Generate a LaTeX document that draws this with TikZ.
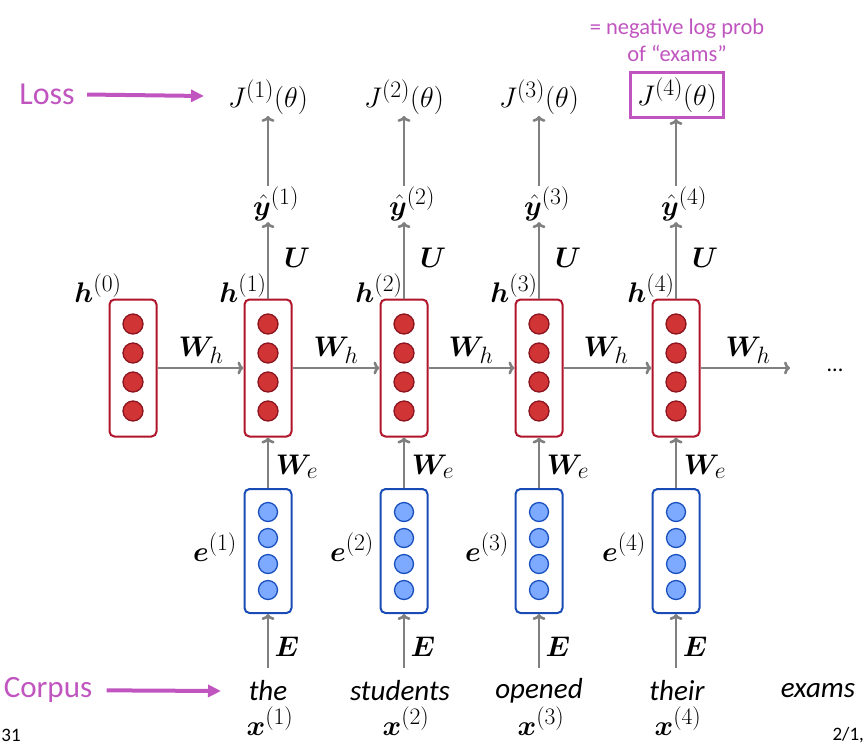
\documentclass[tikz,border=0pt]{standalone}
\usepackage{amsmath}
\usepackage{bm}
\usepackage{fontspec}
\newfontfamily\calibri{Carlito}
\usetikzlibrary{arrows.meta}

\definecolor{boxred}{RGB}{176,20,42}
\definecolor{dotred}{RGB}{140,20,30}
\definecolor{fillred}{RGB}{208,52,52}
\definecolor{boxblue}{RGB}{25,75,180}
\definecolor{dotblue}{RGB}{25,80,190}
\definecolor{fillblue}{RGB}{125,170,255}
\definecolor{arrgray}{RGB}{128,128,128}
\definecolor{lossprp}{RGB}{192,85,192}

\begin{document}
\begin{tikzpicture}
[
	x=1pt,y=-1pt,
	mth/.style={font=\fontsize{24.88}{30}\selectfont,scale=1.14,inner sep=1},
	hid/.style={rectangle,draw=boxred,line width=2,rounded corners=5,minimum width=47,minimum height=137},
	emb/.style={rectangle,draw=boxblue,line width=2,rounded corners=5,minimum width=47,minimum height=124},
	hdot/.style={circle,draw=dotred,fill=fillred,line width=1.3,minimum size=20,inner sep=0},
	edot/.style={circle,draw=dotblue,fill=fillblue,line width=1.3,minimum size=19,inner sep=0},
	arr/.style={draw=arrgray,line width=2.6,-{To[length=6,width=13]}},
	parr/.style={draw=lossprp,line width=4,-{Triangle[length=13,width=12]}},
	word/.style={font=\calibri\itshape\fontsize{29}{32}\selectfont},
	side/.style={font=\calibri\fontsize{32}{36}\selectfont,text=lossprp}
]
\useasboundingbox (0,0) rectangle (866,747);

% hidden states
\node[hid] (h0) at (133,368) {};
\node[hid] (h1) at (268,368) {};
\node[hid] (h2) at (404,368) {};
\node[hid] (h3) at (539,368) {};
\node[hid] (h4) at (676,368) {};

\node[hdot] (h0a) at (133,324) {};
\node[hdot] (h0b) at (133,353) {};
\node[hdot] (h0c) at (133,382) {};
\node[hdot] (h0d) at (133,411) {};

\node[hdot] (h1a) at (268,324) {};
\node[hdot] (h1b) at (268,353) {};
\node[hdot] (h1c) at (268,382) {};
\node[hdot] (h1d) at (268,411) {};

\node[hdot] (h2a) at (404,324) {};
\node[hdot] (h2b) at (404,353) {};
\node[hdot] (h2c) at (404,382) {};
\node[hdot] (h2d) at (404,411) {};

\node[hdot] (h3a) at (539,324) {};
\node[hdot] (h3b) at (539,353) {};
\node[hdot] (h3c) at (539,382) {};
\node[hdot] (h3d) at (539,411) {};

\node[hdot] (h4a) at (676,324) {};
\node[hdot] (h4b) at (676,353) {};
\node[hdot] (h4c) at (676,382) {};
\node[hdot] (h4d) at (676,411) {};

% embeddings
\node[emb] (e1) at (268,551) {};
\node[emb] (e2) at (404,551) {};
\node[emb] (e3) at (539,551) {};
\node[emb] (e4) at (676,551) {};

\node[edot] (e1a) at (268,512) {};
\node[edot] (e1b) at (268,538) {};
\node[edot] (e1c) at (268,564) {};
\node[edot] (e1d) at (268,590) {};

\node[edot] (e2a) at (404,512) {};
\node[edot] (e2b) at (404,538) {};
\node[edot] (e2c) at (404,564) {};
\node[edot] (e2d) at (404,590) {};

\node[edot] (e3a) at (539,512) {};
\node[edot] (e3b) at (539,538) {};
\node[edot] (e3c) at (539,564) {};
\node[edot] (e3d) at (539,590) {};

\node[edot] (e4a) at (676,512) {};
\node[edot] (e4b) at (676,538) {};
\node[edot] (e4c) at (676,564) {};
\node[edot] (e4d) at (676,590) {};

% outputs and losses
\node[mth] (y1) at (276,204) {$\hat{\bm{y}}^{(1)}$};
\node[mth] (y2) at (412,204) {$\hat{\bm{y}}^{(2)}$};
\node[mth] (y3) at (547,204) {$\hat{\bm{y}}^{(3)}$};
\node[mth] (y4) at (684,204) {$\hat{\bm{y}}^{(4)}$};

\node[mth] (J1) at (268,97) {$J^{(1)}(\theta)$};
\node[mth] (J2) at (404,97) {$J^{(2)}(\theta)$};
\node[mth] (J3) at (539,97) {$J^{(3)}(\theta)$};
\node[mth,draw=lossprp,line width=3,minimum width=82,minimum height=39,inner sep=0] (J4) at (677,95) {$J^{(4)}(\theta)$};

\node[font=\calibri\fontsize{22.5}{27}\selectfont,text=lossprp,align=center] (note) at (677,40) {= negative log prob\\of “exams”};

% inputs
\node[word] (w1) at (268,691) {the};
\node[word] (w2) at (400,691) {students};
\node[word] (w3) at (539,691) {opened};
\node[word] (w4) at (677,691) {their};
\node[word] (w5) at (818,691) {exams};

\node[mth] (x1) at (270,721) {$\bm{x}^{(1)}$};
\node[mth] (x2) at (406,721) {$\bm{x}^{(2)}$};
\node[mth] (x3) at (541,721) {$\bm{x}^{(3)}$};
\node[mth] (x4) at (678,721) {$\bm{x}^{(4)}$};

\coordinate (x1top) at (268,668);
\coordinate (x2top) at (404,668);
\coordinate (x3top) at (539,668);
\coordinate (x4top) at (676,668);

% labels
\node[mth] (lh0) at (98,288) {$\bm{h}^{(0)}$};
\node[mth] (lh1) at (243,288) {$\bm{h}^{(1)}$};
\node[mth] (lh2) at (379,288) {$\bm{h}^{(2)}$};
\node[mth] (lh3) at (514,288) {$\bm{h}^{(3)}$};
\node[mth] (lh4) at (651,288) {$\bm{h}^{(4)}$};

\node[mth] (lu1) at (297,258) {$\bm{U}$};
\node[mth] (lu2) at (433,258) {$\bm{U}$};
\node[mth] (lu3) at (568,258) {$\bm{U}$};
\node[mth] (lu4) at (705,258) {$\bm{U}$};

\node[mth] (lw1) at (201,350) {$\bm{W}_h$};
\node[mth] (lw2) at (336,350) {$\bm{W}_h$};
\node[mth] (lw3) at (471,350) {$\bm{W}_h$};
\node[mth] (lw4) at (606,350) {$\bm{W}_h$};
\node[mth] (lw5) at (748,350) {$\bm{W}_h$};

\node[mth] (lwe1) at (297,467) {$\bm{W}_e$};
\node[mth] (lwe2) at (433,467) {$\bm{W}_e$};
\node[mth] (lwe3) at (568,467) {$\bm{W}_e$};
\node[mth] (lwe4) at (705,467) {$\bm{W}_e$};

\node[mth] (le1) at (215,547) {$\bm{e}^{(1)}$};
\node[mth] (le2) at (352,547) {$\bm{e}^{(2)}$};
\node[mth] (le3) at (487,547) {$\bm{e}^{(3)}$};
\node[mth] (le4) at (624,547) {$\bm{e}^{(4)}$};

\node[mth] (lE1) at (287,647) {$\bm{E}$};
\node[mth] (lE2) at (423,647) {$\bm{E}$};
\node[mth] (lE3) at (558,647) {$\bm{E}$};
\node[mth] (lE4) at (695,647) {$\bm{E}$};

\coordinate (hend) at (790,368);
\node[font=\calibri\fontsize{22}{26}\selectfont] (dots) at (835,370) {...};

% side labels
\node[side] (loss) at (47,94) {Loss};
\node[side,font=\calibri\fontsize{31}{34}\selectfont] (corpus) at (48,690) {Corpus};
\coordinate (lossend) at (204,96);
\coordinate (corpusend) at (221,691);

\node[font=\calibri\fontsize{19}{22}\selectfont] (pg) at (11,735) {31};
\node[font=\calibri\fontsize{19}{22}\selectfont,anchor=west] (date) at (829,735) {2/1,};


\draw[arr]	(h0)	--	(h1);
\draw[arr]	(h1)	--	(h2);
\draw[arr]	(h2)	--	(h3);
\draw[arr]	(h3)	--	(h4);
\draw[arr]	(h4)	--	(hend);

\draw[arr]	(e1)	--	(h1);
\draw[arr]	(e2)	--	(h2);
\draw[arr]	(e3)	--	(h3);
\draw[arr]	(e4)	--	(h4);

\draw[arr]	(x1top)	--	(e1);
\draw[arr]	(x2top)	--	(e2);
\draw[arr]	(x3top)	--	(e3);
\draw[arr]	(x4top)	--	(e4);

\draw[arr]	(h1.north)	--	(h1 |- y1.south);
\draw[arr]	(h2.north)	--	(h2 |- y2.south);
\draw[arr]	(h3.north)	--	(h3 |- y3.south);
\draw[arr]	(h4.north)	--	(h4 |- y4.south);

\draw[arr]	(h1 |- y1.north)	--	(h1 |- J1.south);
\draw[arr]	(h2 |- y2.north)	--	(h2 |- J2.south);
\draw[arr]	(h3 |- y3.north)	--	(h3 |- J3.south);
\draw[arr]	(h4 |- y4.north)	--	(h4 |- J4.south);

\draw[parr,shorten <=9]	(loss)	--	(lossend);
\draw[parr,shorten <=11]	(corpus)	--	(corpusend);

\end{tikzpicture}
\end{document}
